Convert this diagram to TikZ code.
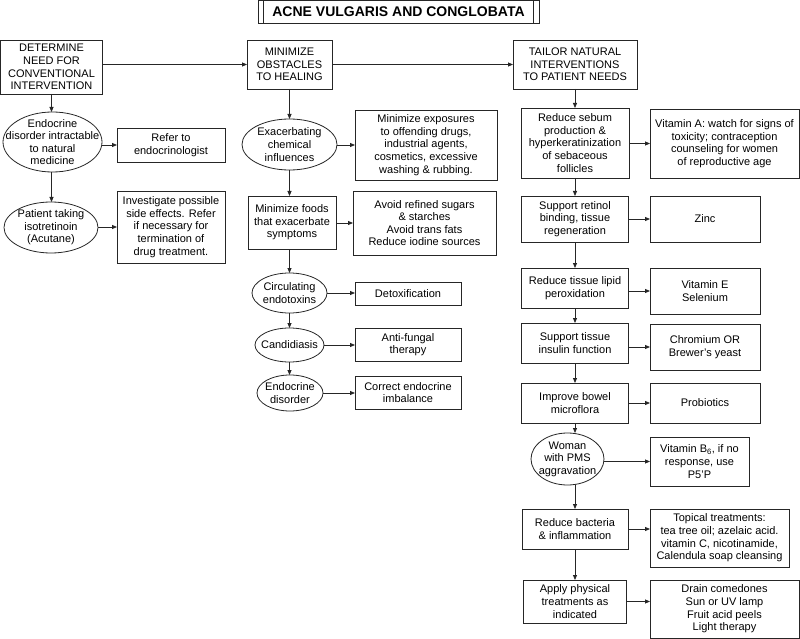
\documentclass[tikz,border=0pt]{standalone}
\usepackage{fontspec}
\setmainfont{Liberation Sans}
\usetikzlibrary{shapes.geometric,arrows.meta}
\tikzset{
  base/.style={draw=black!85, line width=0.8pt, align=center, inner sep=0pt, outer sep=0pt, font=\fontsize{11}{12.6}\selectfont},
  bx/.style={base, rectangle},
  el/.style={base, ellipse},
  lbl/.style={align=center, inner sep=0pt, font=\fontsize{11}{12.6}\selectfont},
  arr/.style={draw=black!85, line width=0.8pt, -{Triangle[length=5pt,width=4pt]}}
}
\begin{document}
\begin{tikzpicture}[x=1pt,y=-1pt]
\useasboundingbox (0,0) rectangle (800,639);
% title
\node[draw=black!85, line width=0.8pt, minimum width=281pt, minimum height=22.5pt, inner sep=0pt, font=\bfseries\fontsize{14}{16}\selectfont] (title) at (398.5,11.75) {ACNE VULGARIS AND CONGLOBATA};
\draw[black!85, line width=0.8pt] ([xshift=6pt]title.north west) -- ([xshift=6pt]title.south west);
\draw[black!85, line width=0.8pt] ([xshift=-6pt]title.north east) -- ([xshift=-6pt]title.south east);
% headers
\node[bx, minimum width=102pt, minimum height=54pt] (c1) at (51.5,67) {DETERMINE\\NEED FOR\\CONVENTIONAL\\INTERVENTION};
\node[bx, minimum width=85pt, minimum height=49pt] (c2) at (289.5,64.5) {MINIMIZE\\OBSTACLES\\TO HEALING};
\node[bx, minimum width=124pt, minimum height=49pt] (c3) at (575,64.5) {TAILOR NATURAL\\INTERVENTIONS\\TO PATIENT NEEDS};
\draw[arr] (c1.east |- c2.west) -- (c2.west);
\draw[arr] (c2.east) -- (c3.west);
% column 1
\node[el, minimum width=99pt, minimum height=60pt, label={[lbl]center:Endocrine\\disorder intractable\\to natural\\medicine}] (e1) at (52.5,142) {};
\node[bx, minimum width=108pt, minimum height=34pt] (r1) at (171,145) {Refer to\\endocrinologist};
\node[el, minimum width=94pt, minimum height=51pt, label={[lbl]center:Patient taking\\isotretinoin\\(Acutane)}] (e2) at (51,227.5) {};
\node[bx, minimum width=108pt, minimum height=72pt] (r2) at (171,227) {Investigate possible\\side effects. Refer\\if necessary for\\termination of\\drug treatment.};
\draw[arr] (c1.south) -- (c1.south |- e1.north);
\draw[arr] (c1.south |- e1.south) -- (c1.south |- e2.north);
\draw[arr] (e1.east |- r1.west) -- (r1.west);
\draw[arr] (e2.east |- r2.west) -- (r2.west);
% column 2
\node[el, minimum width=95pt, minimum height=51pt, label={[lbl]center:Exacerbating\\chemical\\influences}] (e3) at (289.5,144.5) {};
\node[bx, minimum width=142pt, minimum height=70pt] (r3) at (426,145) {Minimize exposures\\to offending drugs,\\industrial agents,\\cosmetics, excessive\\washing \& rubbing.};
\node[bx, minimum width=88pt, minimum height=53pt] (b4) at (292,222.5) {Minimize foods\\that exacerbate\\symptoms};
\node[bx, minimum width=143pt, minimum height=64pt] (r4) at (424.5,223) {Avoid refined sugars\\\& starches\\Avoid trans fats\\Reduce iodine sources};
\node[el, minimum width=75pt, minimum height=40pt, label={[lbl]center:Circulating\\endotoxins}] (e5) at (289.5,293) {};
\node[bx, minimum width=106pt, minimum height=23pt] (r5) at (408,293.5) {Detoxification};
\node[el, minimum width=69pt, minimum height=34pt, label={[lbl]center:Candidiasis}] (e6) at (289.5,345) {};
\node[bx, minimum width=106pt, minimum height=33pt] (r6) at (408,344.5) {Anti-fungal\\therapy};
\node[el, minimum width=66pt, minimum height=36pt, label={[lbl]center:Endocrine\\disorder}] (e7) at (290,393) {};
\node[bx, minimum width=106pt, minimum height=33pt] (r7) at (408,392.5) {Correct endocrine\\imbalance};
\draw[arr] (c2.south) -- (c2.south |- e3.north);
\draw[arr] (e3.south) -- (e3.south |- b4.north);
\draw[arr] (e5.north |- b4.south) -- (e5.north);
\draw[arr] (e5.south) -- (e5.south |- e6.north);
\draw[arr] (e6.south) -- (e6.south |- e7.north);
\draw[arr] (e3.east |- r3.west) -- (r3.west);
\draw[arr] (b4.east |- r4.west) -- (r4.west);
\draw[arr] (e5.east) -- (e5.east -| r5.west);
\draw[arr] (e6.east) -- (e6.east -| r6.west);
\draw[arr] (e7.east) -- (e7.east -| r7.west);
% column 3
\node[bx, minimum width=108pt, minimum height=70pt] (d1) at (575,143) {Reduce sebum\\production \&\\hyperkeratinization\\of sebaceous\\follicles};
\node[bx, minimum width=149pt, minimum height=69pt] (v1) at (724.5,143.5) {Vitamin A: watch for signs of\\toxicity; contraception\\counseling for women\\of reproductive age};
\node[bx, minimum width=107pt, minimum height=46pt] (d2) at (575,219) {Support retinol\\binding, tissue\\regeneration};
\node[bx, minimum width=110pt, minimum height=46pt] (v2) at (705,219) {Zinc};
\node[bx, minimum width=107pt, minimum height=40pt] (d3) at (575,288) {Reduce tissue lipid\\peroxidation};
\node[bx, minimum width=110pt, minimum height=46pt] (v3) at (705,291) {Vitamin E\\Selenium};
\node[bx, minimum width=107pt, minimum height=40pt] (d4) at (575,343) {Support tissue\\insulin function};
\node[bx, minimum width=110pt, minimum height=46pt] (v4) at (705,347) {Chromium OR\\Brewer's yeast};
\node[bx, minimum width=107pt, minimum height=40pt] (d5) at (575,403) {Improve bowel\\microflora};
\node[bx, minimum width=110pt, minimum height=40pt] (v5) at (705,403) {Probiotics};
\node[el, minimum width=73pt, minimum height=52pt, label={[lbl]center:Woman\\with PMS\\aggravation}] (e8) at (567.5,459) {};
\node[bx, minimum width=99pt, minimum height=49pt] (v6) at (699.5,461.5) {Vitamin B\textsubscript{6}, if no\\response, use\\P5'P};
\node[bx, minimum width=106pt, minimum height=40pt] (d6) at (575,529) {Reduce bacteria\\\& inflammation};
\node[bx, minimum width=139pt, minimum height=58pt] (v7) at (719.5,538) {Topical treatments:\\tea tree oil; azelaic acid.\\vitamin C, nicotinamide,\\Calendula soap cleansing};
\node[bx, minimum width=103pt, minimum height=43pt] (d7) at (575,601.5) {Apply physical\\treatments as\\indicated};
\node[bx, minimum width=149pt, minimum height=58pt] (v8) at (724.5,609) {Drain comedones\\Sun or UV lamp\\Fruit acid peels\\Light therapy};
\draw[arr] (c3.south) -- (c3.south |- d1.north);
\draw[arr] (d1.south) -- (d1.south |- d2.north);
\draw[arr] (d2.south) -- (d2.south |- d3.north);
\draw[arr] (d3.south) -- (d3.south |- d4.north);
\draw[arr] (d4.south) -- (d4.south |- d5.north);
\draw[arr] (d5.south) -- (d5.south |- e8.north);
\draw[arr] (d6.north |- e8.south) -- (d6.north);
\draw[arr] (d6.south) -- (d6.south |- d7.north);
\draw[arr] (d1.east |- v1.west) -- (v1.west);
\draw[arr] (d2.east |- v2.west) -- (v2.west);
\draw[arr] (d3.east |- v3.west) -- (v3.west);
\draw[arr] (d4.east |- v4.west) -- (v4.west);
\draw[arr] (d5.east) -- (d5.east -| v5.west);
\draw[arr] (e8.east |- v6.west) -- (v6.west);
\draw[arr] (d6.east) -- (d6.east -| v7.west);
\draw[arr] (d7.east) -- (d7.east -| v8.west);
\end{tikzpicture}
\end{document}
